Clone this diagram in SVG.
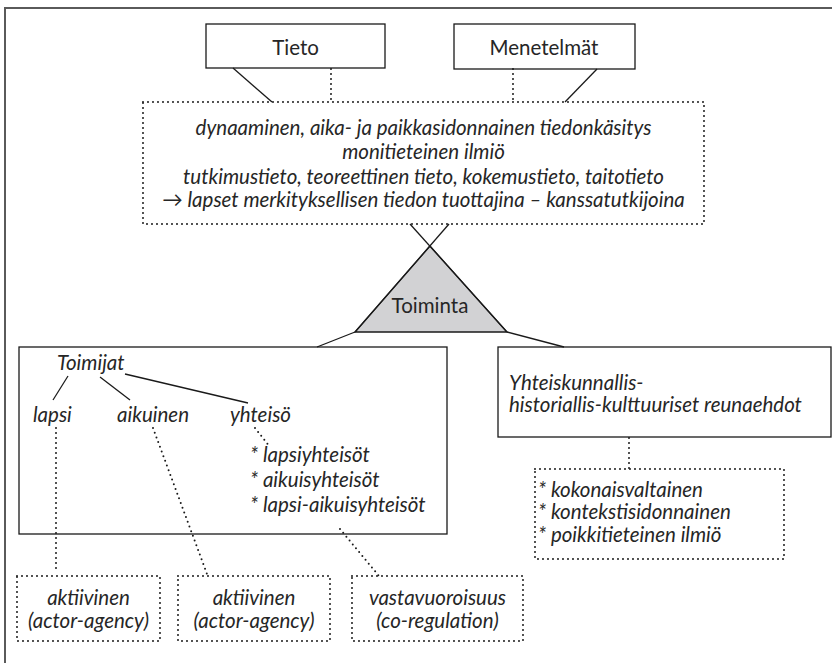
<svg xmlns="http://www.w3.org/2000/svg" width="832" height="663" viewBox="0 0 832 663">
<style>
  .t { font-family: Lato, "Open Sans", sans-serif; font-size: 20.5px; fill: #262626; }
  .i { font-style: italic; }
  .box { fill: #fff; stroke: #1a1a1a; stroke-width: 1.3; }
  .dbox { fill: none; stroke: #1a1a1a; stroke-width: 2; stroke-dasharray: 0 5; stroke-linecap: round; }
  .solid { fill: none; stroke: #1a1a1a; stroke-width: 1.3; }
  .dot { fill: none; stroke: #1a1a1a; stroke-width: 2; stroke-dasharray: 0 5; stroke-linecap: round; }
</style>
<rect x="0" y="0" width="832" height="663" fill="#fff"/>
<path d="M5,663 V8 H832" fill="none" stroke="#5a5a5a" stroke-width="2"/>

<g id="tieto">
  <rect class="box" x="206" y="24" width="179" height="44"/>
  <text class="t" x="295.5" y="55" text-anchor="middle">Tieto</text>
</g>
<g id="menetelmat">
  <rect class="box" x="454" y="24" width="181" height="45"/>
  <text class="t" x="544" y="55" text-anchor="middle">Menetelmät</text>
</g>
<g id="tiedonkasitys">
  <rect class="dbox" x="143" y="102" width="561" height="122"/>
  <text class="t i" x="423.5" y="135" text-anchor="middle">dynaaminen, aika- ja paikkasidonnainen tiedonkäsitys</text>
  <text class="t i" x="423.5" y="159" text-anchor="middle">monitieteinen ilmiö</text>
  <text class="t i" x="423.5" y="184" text-anchor="middle">tutkimustieto, teoreettinen tieto, kokemustieto, taitotieto</text>
  <text class="t i" x="423.5" y="207" text-anchor="middle">→ lapset merkityksellisen tiedon tuottajina – kanssatutkijoina</text>
</g>
<g id="toiminta">
  <polygon points="430,246 355,332 507,332" fill="#d2d2d4" stroke="#1a1a1a" stroke-width="1.3"/>
  <text class="t" x="430" y="313" text-anchor="middle">Toiminta</text>
</g>
<g id="toimijat">
  <rect class="box" x="19" y="347" width="428" height="187"/>
  <text class="t i" x="57" y="370">Toimijat</text>
  <text class="t i" x="33" y="422">lapsi</text>
  <text class="t i" x="117" y="422">aikuinen</text>
  <text class="t i" x="230" y="422">yhteisö</text>
  <text class="t i" x="250" y="462">* lapsiyhteisöt</text>
  <text class="t i" x="250" y="487">* aikuisyhteisöt</text>
  <text class="t i" x="250" y="512">* lapsi-aikuisyhteisöt</text>
</g>
<g id="reunaehdot">
  <rect class="box" x="498" y="347" width="333" height="90"/>
  <text class="t i" x="509" y="390">Yhteiskunnallis-</text>
  <text class="t i" x="509" y="412">historiallis-kulttuuriset reunaehdot</text>
</g>
<g id="ilmio">
  <rect class="dbox" x="535" y="469" width="249" height="90"/>
  <text class="t i" x="538" y="497">* kokonaisvaltainen</text>
  <text class="t i" x="538" y="519">* kontekstisidonnainen</text>
  <text class="t i" x="538" y="542">* poikkitieteinen ilmiö</text>
</g>
<g id="aktiivinen1">
  <rect class="dbox" x="17" y="576" width="143" height="65"/>
  <text class="t i" x="88.5" y="605" text-anchor="middle">aktiivinen</text>
  <text class="t i" x="88.5" y="628" text-anchor="middle">(actor-agency)</text>
</g>
<g id="aktiivinen2">
  <rect class="dbox" x="178" y="576" width="152" height="65"/>
  <text class="t i" x="254" y="605" text-anchor="middle">aktiivinen</text>
  <text class="t i" x="254" y="628" text-anchor="middle">(actor-agency)</text>
</g>
<g id="vastavuoroisuus">
  <rect class="dbox" x="352" y="576" width="171" height="65"/>
  <text class="t i" x="437.5" y="605" text-anchor="middle">vastavuoroisuus</text>
  <text class="t i" x="437.5" y="628" text-anchor="middle">(co-regulation)</text>
</g>

<g id="connectors">
  <line class="solid" x1="233" y1="68" x2="272" y2="102"/>
  <line class="dot" x1="331" y1="69" x2="331" y2="102"/>
  <line class="dot" x1="513" y1="69" x2="513" y2="102"/>
  <line class="solid" x1="597" y1="69" x2="565" y2="102"/>
  <line class="solid" x1="355" y1="332" x2="449" y2="224"/>
  <line class="solid" x1="507" y1="332" x2="410" y2="224"/>
  <line class="solid" x1="355" y1="332" x2="317" y2="347"/>
  <line class="solid" x1="507" y1="332" x2="564" y2="347"/>
  <line class="solid" x1="68" y1="376" x2="53" y2="400"/>
  <line class="solid" x1="100" y1="377" x2="130" y2="400"/>
  <line class="solid" x1="125" y1="374" x2="248" y2="403"/>
  <line class="dot" x1="56" y1="428" x2="56" y2="573"/>
  <line class="dot" x1="153" y1="428" x2="207" y2="574"/>
  <line class="dot" x1="255" y1="428" x2="270" y2="447"/>
  <line class="dot" x1="340" y1="529" x2="379" y2="576"/>
  <line class="dot" x1="629" y1="438" x2="629" y2="469"/>
</g>
</svg>
